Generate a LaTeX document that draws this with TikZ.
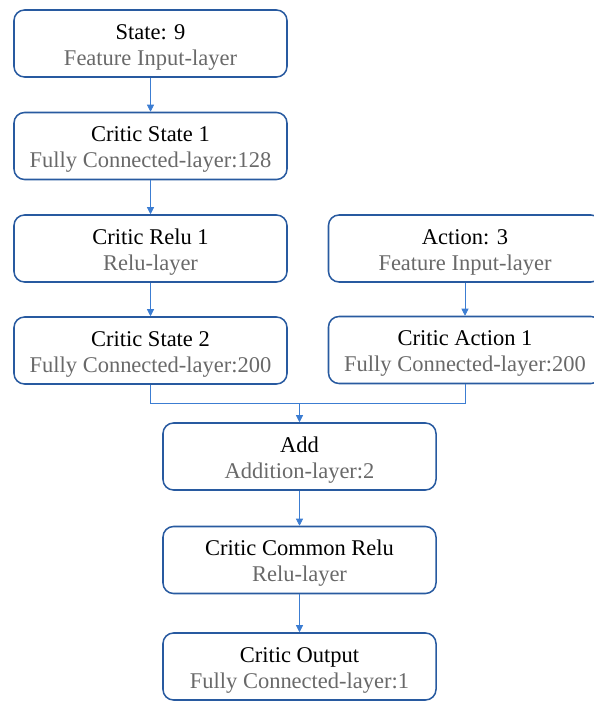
\documentclass[tikz,border=0pt]{standalone}
\usepackage{fontspec}
\setmainfont{Liberation Serif}
\usetikzlibrary{positioning,arrows.meta}

\definecolor{boxblue}{RGB}{40,90,160}
\definecolor{arrowblue}{RGB}{60,125,210}
\definecolor{subgray}{RGB}{105,105,105}

% 两行文字：层名 + 层类型
\newcommand{\layer}[2]{\rule{0pt}{19pt}#1\\[0.6pt]{\color{subgray}#2}}

\begin{document}
\begin{tikzpicture}[x=0.03cm,y=-0.03cm,>={Triangle[length=6pt,width=6pt]},
  layerbox/.style={draw=boxblue,line width=1.3pt,rounded corners=9pt,
    minimum width=8.19cm,minimum height=2.01cm,align=center,
    font=\fontsize{19.2}{21.5}\selectfont},
  link/.style={arrowblue,line width=0.6pt}]

% 画布范围
\useasboundingbox (0,0) rectangle (594,702);
\clip (0,0) rectangle (594,702);

% 状态支路
\node[layerbox] (state) at (150.5,43.5) {\layer{State: 9}{Feature Input-layer}};
\node[layerbox] (cs1) at (150.5,146) {\layer{Critic State 1}{Fully Connected-layer:128}};
\node[layerbox] (relu1) at (150.5,248.5) {\layer{Critic Relu 1}{Relu-layer}};
\node[layerbox] (cs2) at (150.5,350.5) {\layer{Critic State 2}{Fully Connected-layer:200}};

% 动作支路（右边超出画面）
\node[layerbox] (action) at (465,248.5) {\layer{Action: 3}{Feature Input-layer}};
\node[layerbox] (ca1) at (465,350) {\layer{Critic Action 1}{Fully Connected-layer:200}};

% 合并之后
\node[layerbox] (add) at (299.5,456.5) {\layer{Add}{Addition-layer:2}};
\node[layerbox] (crelu) at (299.5,560) {\layer{Critic Common Relu}{Relu-layer}};
\node[layerbox] (out) at (299.5,666.5) {\layer{Critic Output}{Fully Connected-layer:1}};

% 连线
\draw[link,->] (state) -- (cs1);
\draw[link,->] (cs1) -- (relu1);
\draw[link,->] (relu1) -- (cs2);
\draw[link,->] (action) -- (ca1);

\coordinate (merge) at (299.5,403);
\draw[link] (cs2.south) |- (merge);
\draw[link] (ca1.south) |- (merge);
\draw[link,->] (merge) -- (add);

\draw[link,->] (add) -- (crelu);
\draw[link,->] (crelu) -- (out);

\end{tikzpicture}
\end{document}
